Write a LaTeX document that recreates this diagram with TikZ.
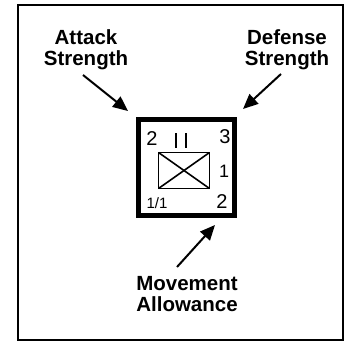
\documentclass[tikz,border=0pt]{standalone}
\usepackage{fontspec}
\setmainfont{Liberation Sans}
\usetikzlibrary{arrows.meta}
\begin{document}
\begin{tikzpicture}[x=1pt,y=-1pt,
  lbl/.style={font=\fontsize{20.5}{21}\selectfont\bfseries, align=center, inner sep=0pt},
  num/.style={font=\fontsize{20}{20}\selectfont, inner sep=0pt},
  ptr/.style={line width=2pt, -{Triangle[length=15pt,width=13pt]}}]
\useasboundingbox (0,0) rectangle (344,342);
\draw[line width=1.6pt] (18,5) rectangle (343,340);
% counter
\draw[line width=5pt] (138.5,119.5) rectangle (234.5,215.5);
\draw[line width=1.6pt] (158.5,152.5) rectangle (209.5,188.5);
\draw[line width=1.6pt] (158.5,152.5) -- (209.5,188.5);
\draw[line width=1.6pt] (158.5,188.5) -- (209.5,152.5);
\draw[line width=1.5pt] (176,133) -- (176,148);
\draw[line width=1.5pt] (186,133) -- (186,148);
\node[num] (tl) at (152,139) {2};
\node[num] (tr) at (225,137) {3};
\node[num, font=\fontsize{18}{18}\selectfont] (mr) at (224,171) {1};
\node[num, font=\fontsize{15}{15}\selectfont] (bl) at (157,203) {1/1};
\node[num] (br) at (222,202) {2};
\coordinate (ca) at (128,111);
\coordinate (cd) at (243,109);
\coordinate (cm) at (215,225);
% labels
\node[lbl] (att) at (86,50) {Attack\\Strength};
\node[lbl] (def) at (287,50) {Defense\\Strength};
\node[lbl] (mov) at (187,294) {Movement\\Allowance};
\draw[ptr] (83,75) -- (ca);
\draw[ptr] (281,74) -- (cd);
\draw[ptr] (177,267) -- (cm);
\end{tikzpicture}
\end{document}
